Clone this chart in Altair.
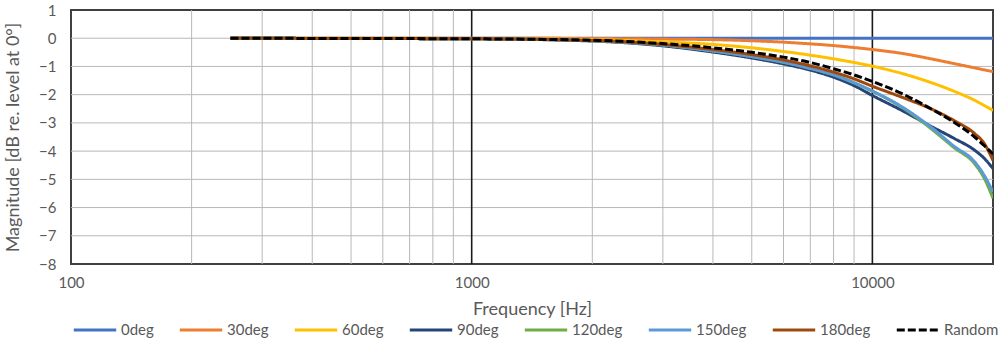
import altair as alt
import pandas as pd

freqs = [250, 500, 1000, 2000, 3000, 4000, 5000, 6000, 7000, 8000, 9000, 10000,
         12000, 14000, 16000, 18000, 19000, 20000]

series_names = ["0deg", "30deg", "60deg", "90deg", "120deg", "150deg", "180deg", "Random"]

deg0 = [0] * 18
deg30 = [0, 0, 0, -0.01, -0.03, -0.05, -0.09, -0.14, -0.2, -0.26, -0.33, -0.4,
         -0.55, -0.73, -0.9, -1.05, -1.12, -1.18]
deg60 = [0, 0, -0.01, -0.05, -0.13, -0.22, -0.34, -0.47, -0.6, -0.73, -0.86, -0.99,
         -1.27, -1.57, -1.88, -2.2, -2.38, -2.56]
deg90 = [0, -0.01, -0.02, -0.1, -0.27, -0.49, -0.7, -0.91, -1.13, -1.38, -1.68, -2.03,
         -2.6, -3.12, -3.55, -3.97, -4.25, -4.62]
deg120 = [0, -0.01, -0.02, -0.09, -0.24, -0.45, -0.65, -0.85, -1.07, -1.3, -1.58, -1.88,
          -2.5, -3.2, -3.88, -4.45, -4.95, -5.67]
deg150 = [0, -0.01, -0.02, -0.09, -0.24, -0.45, -0.65, -0.85, -1.07, -1.3, -1.58, -1.87,
          -2.48, -3.15, -3.83, -4.38, -4.85, -5.45]
deg180 = [0, -0.01, -0.02, -0.08, -0.22, -0.4, -0.58, -0.77, -0.98, -1.2, -1.44, -1.7,
          -2.12, -2.5, -2.92, -3.38, -3.72, -4.33]
random_inc = [0, -0.01, -0.02, -0.07, -0.19, -0.34, -0.5, -0.67, -0.86, -1.08, -1.3, -1.53,
              -2.0, -2.5, -2.98, -3.5, -3.8, -4.1]

series_values = [deg0, deg30, deg60, deg90, deg120, deg150, deg180, random_inc]
colors = ["#4472C4", "#ED7D31", "#FFC000", "#264478", "#70AD47", "#5B9BD5", "#9E480E", "#000000"]
dashes = [[1, 0]] * 7 + [[8, 3]]

x_minor_grid = [200, 300, 400, 500, 600, 700, 800, 900,
                2000, 3000, 4000, 5000, 6000, 7000, 8000, 9000]
x_major_grid = [1000, 10000]
y_grid = [0, -1, -2, -3, -4, -5, -6, -7]
x_label_values = [100, 1000, 10000]
y_label_values = list(range(-8, 2))

rows = []
for name, vals in zip(series_names, series_values):
    for f, v in zip(freqs, vals):
        rows.append({"f": f, "v": v, "series": name})
df = pd.DataFrame(rows)

FONT = "Lato"
GREY = "#595959"

xscale = alt.Scale(type="log", domain=[100, 20000], nice=False)
yscale = alt.Scale(domain=[-8, 1], nice=False, zero=False)

xaxis = alt.Axis(values=x_label_values, format=".0f", title="Frequency [Hz]",
                 grid=False, ticks=False, domain=False, labelPadding=11, labelFlush=False,
                 labelFontSize=15, labelColor=GREY, labelFont=FONT,
                 titleFontSize=18, titleColor=GREY, titleFont=FONT, titleFontWeight="normal",
                 titlePadding=10)
yaxis = alt.Axis(values=y_label_values, title="Magnitude [dB re. level at 0°]",
                 grid=False, ticks=False, domain=False, labelPadding=15,
                 labelFontSize=15, labelColor=GREY, labelFont=FONT,
                 titleFontSize=18, titleColor=GREY, titleFont=FONT, titleFontWeight="normal",
                 titlePadding=16)


def X(field):
    return alt.X(field, type="quantitative", scale=xscale, axis=xaxis)


def Y(field):
    return alt.Y(field, type="quantitative", scale=yscale, axis=yaxis)


hgrid = alt.Chart(pd.DataFrame({"gy": y_grid})).mark_rule(
    color="#B8B8B8", strokeWidth=1).encode(y=Y("gy"))
vminor = alt.Chart(pd.DataFrame({"gx": x_minor_grid})).mark_rule(
    color="#B8B8B8", strokeWidth=1).encode(x=X("gx"))
vmajor = alt.Chart(pd.DataFrame({"gx": x_major_grid})).mark_rule(
    color="#1a1a1a", strokeWidth=1.6).encode(x=X("gx"))

legend = alt.Legend(title=None, orient="none", legendX=1, legendY=297,
                    direction="horizontal", columns=8, symbolType="stroke",
                    symbolSize=1800, symbolStrokeWidth=3, labelFontSize=15,
                    labelFont=FONT, labelColor=GREY, labelOffset=3,
                    columnPadding=19, padding=0)

lines = alt.Chart(df).mark_line(strokeWidth=3, interpolate="monotone", clip=True).encode(
    x=X("f"),
    y=Y("v"),
    color=alt.Color("series:N", scale=alt.Scale(domain=series_names, range=colors),
                    sort=series_names, legend=legend),
    strokeDash=alt.StrokeDash("series:N", scale=alt.Scale(domain=series_names, range=dashes),
                              sort=series_names, legend=legend),
    order=alt.Order("f:Q"),
)

chart = alt.layer(hgrid, vminor, vmajor, lines).properties(
    width=922, height=254,
    autosize=alt.AutoSizeParams(type="none"),
    padding={"left": 71, "top": 10, "right": 7, "bottom": 78},
    background="white",
).configure_view(stroke="#404040", strokeWidth=2)

chart.save("out.html", embed_options={"renderer": "svg", "actions": False})
